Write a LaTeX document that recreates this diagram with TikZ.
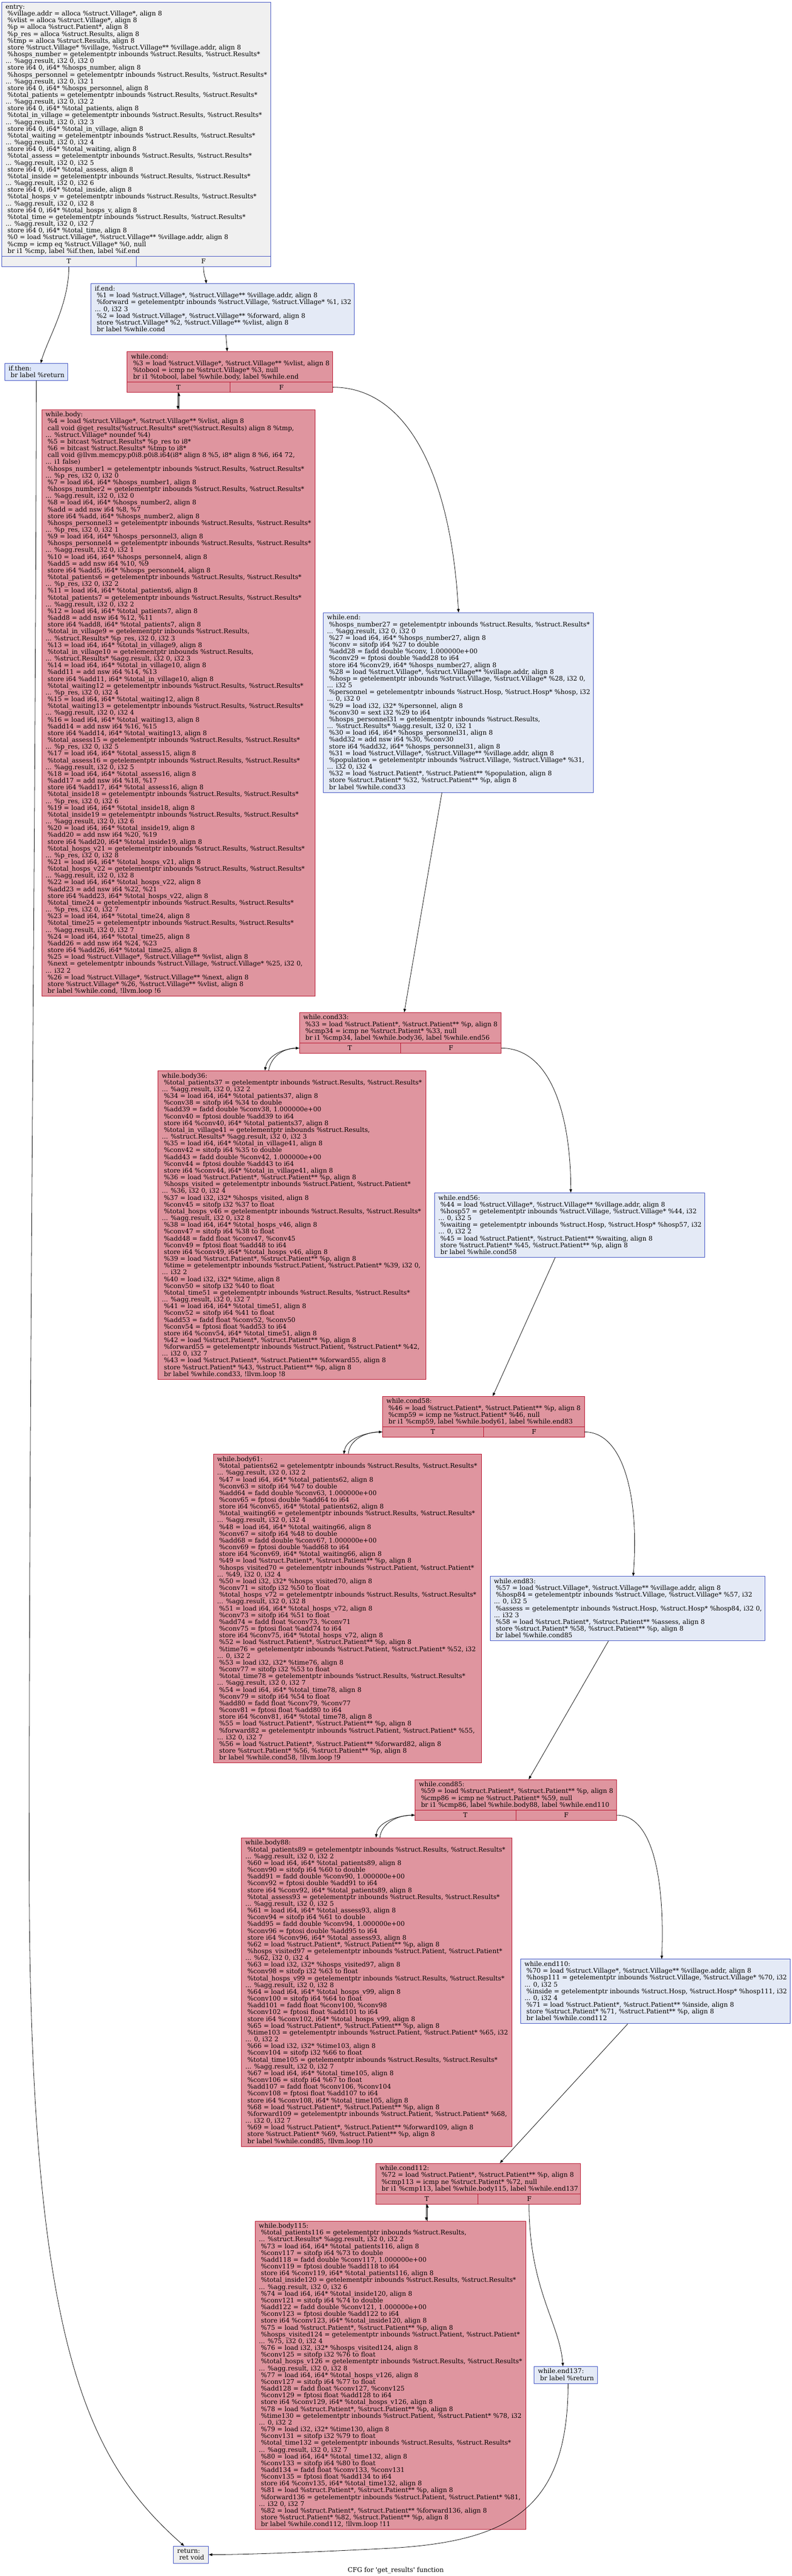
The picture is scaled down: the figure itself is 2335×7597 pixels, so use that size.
\documentclass[tikz,border=0pt]{standalone}
\usepackage{fontspec}
\setmainfont{DejaVu Serif}[Ligatures=TeXOff]
\usetikzlibrary{arrows.meta,fit,calc}
\definecolor{hotfill}{HTML}{DF959F}
\definecolor{hotdraw}{HTML}{B70D28}
\definecolor{colddraw}{HTML}{3D50C3}
\definecolor{coldfill}{HTML}{E4EAF6}
\definecolor{thenfill}{HTML}{DDE6FA}
\definecolor{grayfill}{HTML}{F0F0F0}
\newlength\calw
\newcommand\Lz[1]{\hbox{\strut#1}}
\newcommand\Ls[1]{\hbox{\strut\ #1}}
\newcommand\egrp[2]{\Ls{\%#1 = getelementptr inbounds \%struct.Results, \%struct.Results*}\Lz{... \%agg.result, i32 0, i32 #2}\Ls{store i64 0, i64* \%#1, align 8}}
\newcommand\rgrp[7]{\Ls{\%#1#2 = getelementptr inbounds \%struct.Results, \%struct.Results*}\Lz{... \%p\_res, i32 0, i32 #7}\Ls{\%#4 = load i64, i64* \%#1#2, align 8}\Ls{\%#1#3 = getelementptr inbounds \%struct.Results, \%struct.Results*}\Lz{... \%agg.result, i32 0, i32 #7}\Ls{\%#5 = load i64, i64* \%#1#3, align 8}\Ls{\%#6 = add nsw i64 \%#5, \%#4}\Ls{store i64 \%#6, i64* \%#1#3, align 8}}
\AtBeginDocument{\settowidth\calw{\fontsize{10pt}{12pt}\selectfont\%hosps\_personnel = getelementptr inbounds \%struct.Results, \%struct.Results*}\pgfmathsetmacro\fszloc{10*382.5/\calw}\xdef\fsz{\fszloc}}
\tikzset{
  hotbox/.style={draw=hotdraw, fill=hotfill, line width=0.65pt, inner sep=0pt},
  coldbox/.style={draw=colddraw, fill=coldfill, line width=0.65pt, inner sep=0pt},
  graybox/.style={draw=colddraw, fill=grayfill, line width=0.65pt, inner sep=0pt},
  thenbox/.style={draw=colddraw, fill=thenfill, line width=0.65pt, inner sep=0pt},
  hotline/.style={draw=hotdraw, line width=0.65pt},
  coldline/.style={draw=colddraw, line width=0.65pt},
  txt/.style={anchor=north west, inner sep=0pt, font=\fontsize{\fsz pt}{10pt}\selectfont},
  lbl/.style={inner sep=0pt, font=\fontsize{\fsz pt}{10pt}\selectfont},
  edge/.style={draw=black, line width=0.6pt, -{Triangle[length=5pt,width=3.8pt]}}
}
\begin{document}
\catcode`\%=12 \catcode`\_=12 \lineskiplimit=-30pt \lineskip=0pt
\begin{tikzpicture}[x=0.5pt, y=-0.5pt]
\useasboundingbox (0,0) rectangle (2335,7597);

\node[graybox, fit={(5,6) (798,756)}] (entry) {};
\node[graybox, fit={(5,756) (798,786)}] (entryr) {};
\draw[coldline] (entryr.north) -- (entryr.south);
\node[lbl] (entryT) at ($(entryr.center)!0.5!(entryr.west)$) {T};
\node[lbl] (entryF) at ($(entryr.center)!0.5!(entryr.east)$) {F};
\node[txt] (entryt) at (16,12) {\vbox{\Lz{entry:}
\Ls{%village.addr = alloca %struct.Village*, align 8}
\Ls{%vlist = alloca %struct.Village*, align 8}
\Ls{%p = alloca %struct.Patient*, align 8}
\Ls{%p_res = alloca %struct.Results, align 8}
\Ls{%tmp = alloca %struct.Results, align 8}
\Ls{store %struct.Village* %village, %struct.Village** %village.addr, align 8}
\egrp{hosps_number}{0}
\egrp{hosps_personnel}{1}
\egrp{total_patients}{2}
\egrp{total_in_village}{3}
\egrp{total_waiting}{4}
\egrp{total_assess}{5}
\egrp{total_inside}{6}
\egrp{total_hosps_v}{8}
\egrp{total_time}{7}
\Ls{%0 = load %struct.Village*, %struct.Village** %village.addr, align 8}
\Ls{%cmp = icmp eq %struct.Village* %0, null}
\Ls{br i1 %cmp, label %if.then, label %if.end}}};

\node[thenbox, fit={(14,1072) (200,1122)}] (ifthen) {};
\node[txt] (ifthent) at (25,1078) {\vbox{\Lz{if.then:}\Ls{br label %return}}};

\node[coldbox, fit={(268,837) (1045,987)}] (ifend) {};
\node[txt] (ifendt) at (279,843) {\vbox{\Lz{if.end:}
\Ls{%1 = load %struct.Village*, %struct.Village** %village.addr, align 8}
\Ls{%forward = getelementptr inbounds %struct.Village, %struct.Village* %1, i32}
\Lz{... 0, i32 3}
\Ls{%2 = load %struct.Village*, %struct.Village** %forward, align 8}
\Ls{store %struct.Village* %2, %struct.Village** %vlist, align 8}
\Ls{br label %while.cond}}};

\node[hotbox, fit={(375,1037) (981,1127)}] (wcond) {};
\node[hotbox, fit={(375,1127) (981,1157)}] (wcondr) {};
\draw[hotline] (wcondr.north) -- (wcondr.south);
\node[lbl] (wcondT) at ($(wcondr.center)!0.5!(wcondr.west)$) {T};
\node[lbl] (wcondF) at ($(wcondr.center)!0.5!(wcondr.east)$) {F};
\node[txt] (wcondt) at (386,1043) {\vbox{\Lz{while.cond:}
\Ls{%3 = load %struct.Village*, %struct.Village** %vlist, align 8}
\Ls{%tobool = icmp ne %struct.Village* %3, null}
\Ls{br i1 %tobool, label %while.body, label %while.end}}};

\node[hotbox, fit={(123,1208) (929,2938)}] (wbody) {};
\node[txt] (wbodyt) at (134,1214) {\vbox{\Lz{while.body:}
\Ls{%4 = load %struct.Village*, %struct.Village** %vlist, align 8}
\Ls{call void @get_results(%struct.Results* sret(%struct.Results) align 8 %tmp,}
\Lz{... %struct.Village* noundef %4)}
\Ls{%5 = bitcast %struct.Results* %p_res to i8*}
\Ls{%6 = bitcast %struct.Results* %tmp to i8*}
\Ls{call void @llvm.memcpy.p0i8.p0i8.i64(i8* align 8 %5, i8* align 8 %6, i64 72,}
\Lz{... i1 false)}
\rgrp{hosps_number}{1}{2}{7}{8}{add}{0}
\rgrp{hosps_personnel}{3}{4}{9}{10}{add5}{1}
\rgrp{total_patients}{6}{7}{11}{12}{add8}{2}
\Ls{%total_in_village9 = getelementptr inbounds %struct.Results,}
\Lz{... %struct.Results* %p_res, i32 0, i32 3}
\Ls{%13 = load i64, i64* %total_in_village9, align 8}
\Ls{%total_in_village10 = getelementptr inbounds %struct.Results,}
\Lz{... %struct.Results* %agg.result, i32 0, i32 3}
\Ls{%14 = load i64, i64* %total_in_village10, align 8}
\Ls{%add11 = add nsw i64 %14, %13}
\Ls{store i64 %add11, i64* %total_in_village10, align 8}
\rgrp{total_waiting}{12}{13}{15}{16}{add14}{4}
\rgrp{total_assess}{15}{16}{17}{18}{add17}{5}
\rgrp{total_inside}{18}{19}{19}{20}{add20}{6}
\rgrp{total_hosps_v}{21}{22}{21}{22}{add23}{8}
\rgrp{total_time}{24}{25}{23}{24}{add26}{7}
\Ls{%25 = load %struct.Village*, %struct.Village** %vlist, align 8}
\Ls{%next = getelementptr inbounds %struct.Village, %struct.Village* %25, i32 0,}
\Lz{... i32 2}
\Ls{%26 = load %struct.Village*, %struct.Village** %next, align 8}
\Ls{store %struct.Village* %26, %struct.Village** %vlist, align 8}
\Ls{br label %while.cond, !llvm.loop !6}}};

\node[coldbox, fit={(953,1807) (1749,2337)}] (wend) {};
\node[txt] (wendt) at (964,1813) {\vbox{\Lz{while.end:}
\Ls{%hosps_number27 = getelementptr inbounds %struct.Results, %struct.Results*}
\Lz{... %agg.result, i32 0, i32 0}
\Ls{%27 = load i64, i64* %hosps_number27, align 8}
\Ls{%conv = sitofp i64 %27 to double}
\Ls{%add28 = fadd double %conv, 1.000000e+00}
\Ls{%conv29 = fptosi double %add28 to i64}
\Ls{store i64 %conv29, i64* %hosps_number27, align 8}
\Ls{%28 = load %struct.Village*, %struct.Village** %village.addr, align 8}
\Ls{%hosp = getelementptr inbounds %struct.Village, %struct.Village* %28, i32 0,}
\Lz{... i32 5}
\Ls{%personnel = getelementptr inbounds %struct.Hosp, %struct.Hosp* %hosp, i32}
\Lz{... 0, i32 0}
\Ls{%29 = load i32, i32* %personnel, align 8}
\Ls{%conv30 = sext i32 %29 to i64}
\Ls{%hosps_personnel31 = getelementptr inbounds %struct.Results,}
\Lz{... %struct.Results* %agg.result, i32 0, i32 1}
\Ls{%30 = load i64, i64* %hosps_personnel31, align 8}
\Ls{%add32 = add nsw i64 %30, %conv30}
\Ls{store i64 %add32, i64* %hosps_personnel31, align 8}
\Ls{%31 = load %struct.Village*, %struct.Village** %village.addr, align 8}
\Ls{%population = getelementptr inbounds %struct.Village, %struct.Village* %31,}
\Lz{... i32 0, i32 4}
\Ls{%32 = load %struct.Patient*, %struct.Patient** %population, align 8}
\Ls{store %struct.Patient* %32, %struct.Patient** %p, align 8}
\Ls{br label %while.cond33}}};

\node[hotbox, fit={(883,2986) (1478,3076)}] (c33) {};
\node[hotbox, fit={(883,3076) (1478,3106)}] (c33r) {};
\draw[hotline] (c33r.north) -- (c33r.south);
\node[lbl] (c33T) at ($(c33r.center)!0.5!(c33r.west)$) {T};
\node[lbl] (c33F) at ($(c33r.center)!0.5!(c33r.east)$) {F};
\node[txt] (c33t) at (894,2992) {\vbox{\Lz{while.cond33:}
\Ls{%33 = load %struct.Patient*, %struct.Patient** %p, align 8}
\Ls{%cmp34 = icmp ne %struct.Patient* %33, null}
\Ls{br i1 %cmp34, label %while.body36, label %while.end56}}};

\node[hotbox, fit={(466,3158) (1256,4068)}] (b36) {};
\node[txt] (b36t) at (477,3164) {\vbox{\Lz{while.body36:}
\Ls{%total_patients37 = getelementptr inbounds %struct.Results, %struct.Results*}
\Lz{... %agg.result, i32 0, i32 2}
\Ls{%34 = load i64, i64* %total_patients37, align 8}
\Ls{%conv38 = sitofp i64 %34 to double}
\Ls{%add39 = fadd double %conv38, 1.000000e+00}
\Ls{%conv40 = fptosi double %add39 to i64}
\Ls{store i64 %conv40, i64* %total_patients37, align 8}
\Ls{%total_in_village41 = getelementptr inbounds %struct.Results,}
\Lz{... %struct.Results* %agg.result, i32 0, i32 3}
\Ls{%35 = load i64, i64* %total_in_village41, align 8}
\Ls{%conv42 = sitofp i64 %35 to double}
\Ls{%add43 = fadd double %conv42, 1.000000e+00}
\Ls{%conv44 = fptosi double %add43 to i64}
\Ls{store i64 %conv44, i64* %total_in_village41, align 8}
\Ls{%36 = load %struct.Patient*, %struct.Patient** %p, align 8}
\Ls{%hosps_visited = getelementptr inbounds %struct.Patient, %struct.Patient*}
\Lz{... %36, i32 0, i32 4}
\Ls{%37 = load i32, i32* %hosps_visited, align 8}
\Ls{%conv45 = sitofp i32 %37 to float}
\Ls{%total_hosps_v46 = getelementptr inbounds %struct.Results, %struct.Results*}
\Lz{... %agg.result, i32 0, i32 8}
\Ls{%38 = load i64, i64* %total_hosps_v46, align 8}
\Ls{%conv47 = sitofp i64 %38 to float}
\Ls{%add48 = fadd float %conv47, %conv45}
\Ls{%conv49 = fptosi float %add48 to i64}
\Ls{store i64 %conv49, i64* %total_hosps_v46, align 8}
\Ls{%39 = load %struct.Patient*, %struct.Patient** %p, align 8}
\Ls{%time = getelementptr inbounds %struct.Patient, %struct.Patient* %39, i32 0,}
\Lz{... i32 2}
\Ls{%40 = load i32, i32* %time, align 8}
\Ls{%conv50 = sitofp i32 %40 to float}
\Ls{%total_time51 = getelementptr inbounds %struct.Results, %struct.Results*}
\Lz{... %agg.result, i32 0, i32 7}
\Ls{%41 = load i64, i64* %total_time51, align 8}
\Ls{%conv52 = sitofp i64 %41 to float}
\Ls{%add53 = fadd float %conv52, %conv50}
\Ls{%conv54 = fptosi float %add53 to i64}
\Ls{store i64 %conv54, i64* %total_time51, align 8}
\Ls{%42 = load %struct.Patient*, %struct.Patient** %p, align 8}
\Ls{%forward55 = getelementptr inbounds %struct.Patient, %struct.Patient* %42,}
\Lz{... i32 0, i32 7}
\Ls{%43 = load %struct.Patient*, %struct.Patient** %forward55, align 8}
\Ls{store %struct.Patient* %43, %struct.Patient** %p, align 8}
\Ls{br label %while.cond33, !llvm.loop !8}}};

\node[coldbox, fit={(1281,3518) (2078,3708)}] (e56) {};
\node[txt] (e56t) at (1292,3524) {\vbox{\Lz{while.end56:}
\Ls{%44 = load %struct.Village*, %struct.Village** %village.addr, align 8}
\Ls{%hosp57 = getelementptr inbounds %struct.Village, %struct.Village* %44, i32}
\Lz{... 0, i32 5}
\Ls{%waiting = getelementptr inbounds %struct.Hosp, %struct.Hosp* %hosp57, i32}
\Lz{... 0, i32 2}
\Ls{%45 = load %struct.Patient*, %struct.Patient** %waiting, align 8}
\Ls{store %struct.Patient* %45, %struct.Patient** %p, align 8}
\Ls{br label %while.cond58}}};

\node[hotbox, fit={(1128,4118) (1723,4208)}] (c58) {};
\node[hotbox, fit={(1128,4208) (1723,4238)}] (c58r) {};
\draw[hotline] (c58r.north) -- (c58r.south);
\node[lbl] (c58T) at ($(c58r.center)!0.5!(c58r.west)$) {T};
\node[lbl] (c58F) at ($(c58r.center)!0.5!(c58r.east)$) {F};
\node[txt] (c58t) at (1139,4124) {\vbox{\Lz{while.cond58:}
\Ls{%46 = load %struct.Patient*, %struct.Patient** %p, align 8}
\Ls{%cmp59 = icmp ne %struct.Patient* %46, null}
\Ls{br i1 %cmp59, label %while.body61, label %while.end83}}};

\node[hotbox, fit={(629,4289) (1419,5199)}] (b61) {};
\node[txt] (b61t) at (640,4295) {\vbox{\Lz{while.body61:}
\Ls{%total_patients62 = getelementptr inbounds %struct.Results, %struct.Results*}
\Lz{... %agg.result, i32 0, i32 2}
\Ls{%47 = load i64, i64* %total_patients62, align 8}
\Ls{%conv63 = sitofp i64 %47 to double}
\Ls{%add64 = fadd double %conv63, 1.000000e+00}
\Ls{%conv65 = fptosi double %add64 to i64}
\Ls{store i64 %conv65, i64* %total_patients62, align 8}
\Ls{%total_waiting66 = getelementptr inbounds %struct.Results, %struct.Results*}
\Lz{... %agg.result, i32 0, i32 4}
\Ls{%48 = load i64, i64* %total_waiting66, align 8}
\Ls{%conv67 = sitofp i64 %48 to double}
\Ls{%add68 = fadd double %conv67, 1.000000e+00}
\Ls{%conv69 = fptosi double %add68 to i64}
\Ls{store i64 %conv69, i64* %total_waiting66, align 8}
\Ls{%49 = load %struct.Patient*, %struct.Patient** %p, align 8}
\Ls{%hosps_visited70 = getelementptr inbounds %struct.Patient, %struct.Patient*}
\Lz{... %49, i32 0, i32 4}
\Ls{%50 = load i32, i32* %hosps_visited70, align 8}
\Ls{%conv71 = sitofp i32 %50 to float}
\Ls{%total_hosps_v72 = getelementptr inbounds %struct.Results, %struct.Results*}
\Lz{... %agg.result, i32 0, i32 8}
\Ls{%51 = load i64, i64* %total_hosps_v72, align 8}
\Ls{%conv73 = sitofp i64 %51 to float}
\Ls{%add74 = fadd float %conv73, %conv71}
\Ls{%conv75 = fptosi float %add74 to i64}
\Ls{store i64 %conv75, i64* %total_hosps_v72, align 8}
\Ls{%52 = load %struct.Patient*, %struct.Patient** %p, align 8}
\Ls{%time76 = getelementptr inbounds %struct.Patient, %struct.Patient* %52, i32}
\Lz{... 0, i32 2}
\Ls{%53 = load i32, i32* %time76, align 8}
\Ls{%conv77 = sitofp i32 %53 to float}
\Ls{%total_time78 = getelementptr inbounds %struct.Results, %struct.Results*}
\Lz{... %agg.result, i32 0, i32 7}
\Ls{%54 = load i64, i64* %total_time78, align 8}
\Ls{%conv79 = sitofp i64 %54 to float}
\Ls{%add80 = fadd float %conv79, %conv77}
\Ls{%conv81 = fptosi float %add80 to i64}
\Ls{store i64 %conv81, i64* %total_time78, align 8}
\Ls{%55 = load %struct.Patient*, %struct.Patient** %p, align 8}
\Ls{%forward82 = getelementptr inbounds %struct.Patient, %struct.Patient* %55,}
\Lz{... i32 0, i32 7}
\Ls{%56 = load %struct.Patient*, %struct.Patient** %forward82, align 8}
\Ls{store %struct.Patient* %56, %struct.Patient** %p, align 8}
\Ls{br label %while.cond58, !llvm.loop !9}}};

\node[coldbox, fit={(1445,4649) (2256,4839)}] (e83) {};
\node[txt] (e83t) at (1456,4655) {\vbox{\Lz{while.end83:}
\Ls{%57 = load %struct.Village*, %struct.Village** %village.addr, align 8}
\Ls{%hosp84 = getelementptr inbounds %struct.Village, %struct.Village* %57, i32}
\Lz{... 0, i32 5}
\Ls{%assess = getelementptr inbounds %struct.Hosp, %struct.Hosp* %hosp84, i32 0,}
\Lz{... i32 3}
\Ls{%58 = load %struct.Patient*, %struct.Patient** %assess, align 8}
\Ls{store %struct.Patient* %58, %struct.Patient** %p, align 8}
\Ls{br label %while.cond85}}};

\node[hotbox, fit={(1224,5248) (1818,5338)}] (c85) {};
\node[hotbox, fit={(1224,5338) (1818,5368)}] (c85r) {};
\draw[hotline] (c85r.north) -- (c85r.south);
\node[lbl] (c85T) at ($(c85r.center)!0.5!(c85r.west)$) {T};
\node[lbl] (c85F) at ($(c85r.center)!0.5!(c85r.east)$) {F};
\node[txt] (c85t) at (1235,5254) {\vbox{\Lz{while.cond85:}
\Ls{%59 = load %struct.Patient*, %struct.Patient** %p, align 8}
\Ls{%cmp86 = icmp ne %struct.Patient* %59, null}
\Ls{br i1 %cmp86, label %while.body88, label %while.end110}}};

\node[hotbox, fit={(712,5420) (1510,6330)}] (b88) {};
\node[txt] (b88t) at (723,5426) {\vbox{\Lz{while.body88:}
\Ls{%total_patients89 = getelementptr inbounds %struct.Results, %struct.Results*}
\Lz{... %agg.result, i32 0, i32 2}
\Ls{%60 = load i64, i64* %total_patients89, align 8}
\Ls{%conv90 = sitofp i64 %60 to double}
\Ls{%add91 = fadd double %conv90, 1.000000e+00}
\Ls{%conv92 = fptosi double %add91 to i64}
\Ls{store i64 %conv92, i64* %total_patients89, align 8}
\Ls{%total_assess93 = getelementptr inbounds %struct.Results, %struct.Results*}
\Lz{... %agg.result, i32 0, i32 5}
\Ls{%61 = load i64, i64* %total_assess93, align 8}
\Ls{%conv94 = sitofp i64 %61 to double}
\Ls{%add95 = fadd double %conv94, 1.000000e+00}
\Ls{%conv96 = fptosi double %add95 to i64}
\Ls{store i64 %conv96, i64* %total_assess93, align 8}
\Ls{%62 = load %struct.Patient*, %struct.Patient** %p, align 8}
\Ls{%hosps_visited97 = getelementptr inbounds %struct.Patient, %struct.Patient*}
\Lz{... %62, i32 0, i32 4}
\Ls{%63 = load i32, i32* %hosps_visited97, align 8}
\Ls{%conv98 = sitofp i32 %63 to float}
\Ls{%total_hosps_v99 = getelementptr inbounds %struct.Results, %struct.Results*}
\Lz{... %agg.result, i32 0, i32 8}
\Ls{%64 = load i64, i64* %total_hosps_v99, align 8}
\Ls{%conv100 = sitofp i64 %64 to float}
\Ls{%add101 = fadd float %conv100, %conv98}
\Ls{%conv102 = fptosi float %add101 to i64}
\Ls{store i64 %conv102, i64* %total_hosps_v99, align 8}
\Ls{%65 = load %struct.Patient*, %struct.Patient** %p, align 8}
\Ls{%time103 = getelementptr inbounds %struct.Patient, %struct.Patient* %65, i32}
\Lz{... 0, i32 2}
\Ls{%66 = load i32, i32* %time103, align 8}
\Ls{%conv104 = sitofp i32 %66 to float}
\Ls{%total_time105 = getelementptr inbounds %struct.Results, %struct.Results*}
\Lz{... %agg.result, i32 0, i32 7}
\Ls{%67 = load i64, i64* %total_time105, align 8}
\Ls{%conv106 = sitofp i64 %67 to float}
\Ls{%add107 = fadd float %conv106, %conv104}
\Ls{%conv108 = fptosi float %add107 to i64}
\Ls{store i64 %conv108, i64* %total_time105, align 8}
\Ls{%68 = load %struct.Patient*, %struct.Patient** %p, align 8}
\Ls{%forward109 = getelementptr inbounds %struct.Patient, %struct.Patient* %68,}
\Lz{... i32 0, i32 7}
\Ls{%69 = load %struct.Patient*, %struct.Patient** %forward109, align 8}
\Ls{store %struct.Patient* %69, %struct.Patient** %p, align 8}
\Ls{br label %while.cond85, !llvm.loop !10}}};

\node[coldbox, fit={(1535,5778) (2330,5968)}] (e110) {};
\node[txt] (e110t) at (1546,5784) {\vbox{\Lz{while.end110:}
\Ls{%70 = load %struct.Village*, %struct.Village** %village.addr, align 8}
\Ls{%hosp111 = getelementptr inbounds %struct.Village, %struct.Village* %70, i32}
\Lz{... 0, i32 5}
\Ls{%inside = getelementptr inbounds %struct.Hosp, %struct.Hosp* %hosp111, i32}
\Lz{... 0, i32 4}
\Ls{%71 = load %struct.Patient*, %struct.Patient** %inside, align 8}
\Ls{store %struct.Patient* %71, %struct.Patient** %p, align 8}
\Ls{br label %while.cond112}}};

\node[hotbox, fit={(1108,6380) (1711,6470)}] (c112) {};
\node[hotbox, fit={(1108,6470) (1711,6500)}] (c112r) {};
\draw[hotline] (c112r.north) -- (c112r.south);
\node[lbl] (c112T) at ($(c112r.center)!0.5!(c112r.west)$) {T};
\node[lbl] (c112F) at ($(c112r.center)!0.5!(c112r.east)$) {F};
\node[txt] (c112t) at (1119,6386) {\vbox{\Lz{while.cond112:}
\Ls{%72 = load %struct.Patient*, %struct.Patient** %p, align 8}
\Ls{%cmp113 = icmp ne %struct.Patient* %72, null}
\Ls{br i1 %cmp113, label %while.body115, label %while.end137}}};

\node[hotbox, fit={(752,6550) (1550,7460)}] (b115) {};
\node[txt] (b115t) at (763,6556) {\vbox{\Lz{while.body115:}
\Ls{%total_patients116 = getelementptr inbounds %struct.Results,}
\Lz{... %struct.Results* %agg.result, i32 0, i32 2}
\Ls{%73 = load i64, i64* %total_patients116, align 8}
\Ls{%conv117 = sitofp i64 %73 to double}
\Ls{%add118 = fadd double %conv117, 1.000000e+00}
\Ls{%conv119 = fptosi double %add118 to i64}
\Ls{store i64 %conv119, i64* %total_patients116, align 8}
\Ls{%total_inside120 = getelementptr inbounds %struct.Results, %struct.Results*}
\Lz{... %agg.result, i32 0, i32 6}
\Ls{%74 = load i64, i64* %total_inside120, align 8}
\Ls{%conv121 = sitofp i64 %74 to double}
\Ls{%add122 = fadd double %conv121, 1.000000e+00}
\Ls{%conv123 = fptosi double %add122 to i64}
\Ls{store i64 %conv123, i64* %total_inside120, align 8}
\Ls{%75 = load %struct.Patient*, %struct.Patient** %p, align 8}
\Ls{%hosps_visited124 = getelementptr inbounds %struct.Patient, %struct.Patient*}
\Lz{... %75, i32 0, i32 4}
\Ls{%76 = load i32, i32* %hosps_visited124, align 8}
\Ls{%conv125 = sitofp i32 %76 to float}
\Ls{%total_hosps_v126 = getelementptr inbounds %struct.Results, %struct.Results*}
\Lz{... %agg.result, i32 0, i32 8}
\Ls{%77 = load i64, i64* %total_hosps_v126, align 8}
\Ls{%conv127 = sitofp i64 %77 to float}
\Ls{%add128 = fadd float %conv127, %conv125}
\Ls{%conv129 = fptosi float %add128 to i64}
\Ls{store i64 %conv129, i64* %total_hosps_v126, align 8}
\Ls{%78 = load %struct.Patient*, %struct.Patient** %p, align 8}
\Ls{%time130 = getelementptr inbounds %struct.Patient, %struct.Patient* %78, i32}
\Lz{... 0, i32 2}
\Ls{%79 = load i32, i32* %time130, align 8}
\Ls{%conv131 = sitofp i32 %79 to float}
\Ls{%total_time132 = getelementptr inbounds %struct.Results, %struct.Results*}
\Lz{... %agg.result, i32 0, i32 7}
\Ls{%80 = load i64, i64* %total_time132, align 8}
\Ls{%conv133 = sitofp i64 %80 to float}
\Ls{%add134 = fadd float %conv133, %conv131}
\Ls{%conv135 = fptosi float %add134 to i64}
\Ls{store i64 %conv135, i64* %total_time132, align 8}
\Ls{%81 = load %struct.Patient*, %struct.Patient** %p, align 8}
\Ls{%forward136 = getelementptr inbounds %struct.Patient, %struct.Patient* %81,}
\Lz{... i32 0, i32 7}
\Ls{%82 = load %struct.Patient*, %struct.Patient** %forward136, align 8}
\Ls{store %struct.Patient* %82, %struct.Patient** %p, align 8}
\Ls{br label %while.cond112, !llvm.loop !11}}};

\node[coldbox, fit={(1575,6979) (1761,7029)}] (e137) {};
\node[txt] (e137t) at (1586,6985) {\vbox{\Lz{while.end137:}\Ls{br label %return}}};

\node[graybox, fit={(511,7509) (615,7559)}] (ret) {};
\node[txt] (rett) at (522,7515) {\vbox{\Lz{return:}\Ls{ret void}}};

\node[lbl] (title) at (1167,7580) {CFG for 'get_results' function};

\draw[edge] ($(entryr.south)+(-198.5,0)$) .. controls (203,900) and (140,1000) .. ($(ifthen.north)+(13,0)$);
\draw[edge] ($(entryr.south)+(198.5,0)$) .. controls (600,812) and (607,822) .. ($(ifend.north)+(-48.5,0)$);
\draw[edge] (ifthen.south) .. controls (105,2500) and (86,4000) .. (86,5500) .. controls (86,6900) and (250,7250) .. ($(ret.north)+(-20,0)$);
\draw[edge] ($(ifend.south)+(9.5,0)$) -- ($(wcond.north)+(-8,0)$);
\draw[edge] ($(wcondr.south)+(-153.5,0)$) -- ($(wbody.north)+(-1.5,0)$);
\draw[edge] ($(wbody.north)+(1.5,0)$) -- ($(wcondr.south)+(-150.5,0)$);
\draw[edge] (wcondr.east) .. controls (1200,1142) and (1330,1400) .. ($(wend.north)+(1,0)$);
\draw[edge] ($(wend.south)+(-48,0)$) -- ($(c33.north)+(11.5,0)$);
\draw[edge] (c33r.west) .. controls (835,3091) and (790,3112) .. ($(b36.north)+(-80,0)$);
\draw[edge] ($(b36.north)+(-69,0)$) .. controls (800,3112) and (840,3091) .. (c33r.west);
\draw[edge] (c33r.east) .. controls (1620,3091) and (1683,3280) .. ($(e56.north)+(3.5,0)$);
\draw[edge] ($(e56.south)+(-42.5,0)$) -- ($(c58.north)+(27.5,0)$);
\draw[edge] (c58r.west) .. controls (1075,4223) and (1020,4245) .. ($(b61.north)+(-10,0)$);
\draw[edge] ($(b61.north)+(3,0)$) .. controls (1030,4245) and (1080,4223) .. (c58r.west);
\draw[edge] (c58r.east) .. controls (1840,4223) and (1885,4420) .. ($(e83.north)+(16.5,0)$);
\draw[edge] ($(e83.south)+(-56.5,0)$) -- ($(c85.north)+(38,0)$);
\draw[edge] (c85r.west) .. controls (1170,5353) and (1112,5375) .. ($(b88.north)+(-2,0)$);
\draw[edge] ($(b88.north)+(9,0)$) .. controls (1125,5375) and (1175,5353) .. (c85r.west);
\draw[edge] (c85r.east) .. controls (1930,5353) and (1960,5560) .. ($(e110.north)+(18.5,0)$);
\draw[edge] ($(e110.south)+(-81.5,0)$) -- ($(c112.north)+(64.5,0)$);
\draw[edge] ($(c112r.south)+(-152.5,0)$) -- ($(b115.north)+(106,0)$);
\draw[edge] ($(b115.north)+(109,0)$) -- ($(c112r.south)+(-149.5,0)$);
\draw[edge] ($(c112r.south)+(150.5,0)$) .. controls (1560,6750) and (1650,6850) .. ($(e137.north)+(-8,0)$);
\draw[edge] ($(e137.south)+(7,0)$) .. controls (1675,7400) and (1500,7495) .. (1150,7515) .. controls (900,7528) and (700,7534) .. (ret.east);
\end{tikzpicture}
\catcode`\%=14 \catcode`\_=8
\end{document}
